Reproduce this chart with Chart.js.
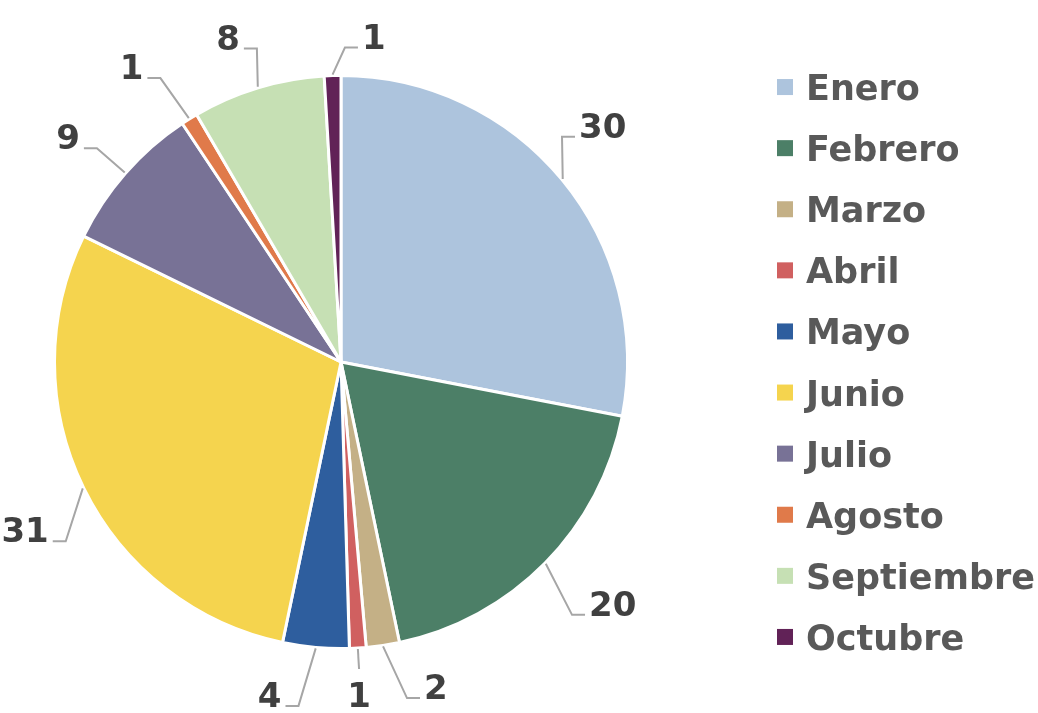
<!DOCTYPE html>
<html>
<head>
<meta charset="utf-8">
<script src="https://cdn.jsdelivr.net/npm/chart.js@4.4.0/dist/chart.umd.min.js"></script>
<style>
  html, body { margin: 0; padding: 0; background: #fff; }
  #wrap { width: 1038px; height: 713px; }
</style>
</head>
<body>
<div id="wrap"><canvas id="mesesChart" width="1038" height="713"></canvas></div>
<script>
document.addEventListener('DOMContentLoaded', function() {
    const data = {
        'Enero': 30,
        'Febrero': 20,
        'Marzo': 2,
        'Abril': 1,
        'Mayo': 4,
        'Junio': 31,
        'Julio': 9,
        'Agosto': 1,
        'Septiembre': 8,
        'Octubre': 1
    };
    const colors = ['#adc4dd', '#4c7f67', '#c4b086', '#d06060', '#2e5e9e',
                    '#f5d44e', '#787296', '#e07a4a', '#c6e0b4', '#612257'];

    // where each value label sits: extra radius, angle nudge (deg), side
    const labelPos = [
        { ext: 29, da: -6,   side: 1 },
        { ext: 56, da: 3,    side: 1 },
        { ext: 56, da: -2.7, side: 1 },
        { ext: 21, da: 0,    side: 0 },
        { ext: 60, da: 2,    side: -1 },
        { ext: 42, da: -7,   side: -1 },
        { ext: 38, da: 0,    side: -1 },
        { ext: 50, da: -0.5, side: -1 },
        { ext: 38, da: 1.8,  side: -1 },
        { ext: 28, da: 2.4,  side: 1 }
    ];

    const valueLabels = {
        id: 'valueLabels',
        afterDatasetsDraw(chart) {
            const ctx = chart.ctx;
            const meta = chart.getDatasetMeta(0);
            const values = chart.data.datasets[0].data;
            ctx.save();
            ctx.font = 'bold 34px "DejaVu Sans"';
            ctx.fillStyle = '#404040';
            ctx.strokeStyle = '#a6a6a6';
            ctx.lineWidth = 2;
            meta.data.forEach((arc, i) => {
                const p = labelPos[i];
                const mid = (arc.startAngle + arc.endAngle) / 2;
                const a2 = mid + p.da * Math.PI / 180;
                const r = arc.outerRadius;
                const x0 = arc.x + (r + 1) * Math.cos(mid);
                const y0 = arc.y + (r + 1) * Math.sin(mid);
                const x1 = arc.x + (r + p.ext) * Math.cos(a2);
                const y1 = arc.y + (r + p.ext) * Math.sin(a2);
                const x2 = x1 + p.side * 13;
                ctx.beginPath();
                ctx.moveTo(x0, y0);
                ctx.lineTo(x1, y1);
                ctx.lineTo(x2, y1);
                ctx.stroke();
                if (p.side === 0) {
                    ctx.textAlign = 'center';
                    ctx.textBaseline = 'top';
                    ctx.fillText(values[i], x1, y1 + 12);
                } else {
                    ctx.textAlign = p.side > 0 ? 'left' : 'right';
                    ctx.textBaseline = 'alphabetic';
                    ctx.fillText(values[i], x2 + p.side * 4, y1 + 1);
                }
            });
            ctx.restore();
        }
    };

    const sideLegend = {
        id: 'sideLegend',
        afterDraw(chart) {
            const ctx = chart.ctx;
            const area = chart.chartArea;
            const labels = chart.data.labels;
            const bg = chart.data.datasets[0].backgroundColor;
            const cy = (area.top + area.bottom) / 2;
            const x = area.right + 148;
            ctx.save();
            ctx.font = 'bold 35px "DejaVu Sans"';
            ctx.fillStyle = '#595959';
            ctx.textAlign = 'left';
            ctx.textBaseline = 'alphabetic';
            labels.forEach((label, i) => {
                const y = cy + (i - (labels.length - 1) / 2) * 61.1;
                ctx.fillStyle = bg[i];
                ctx.fillRect(x, y - 8, 16, 16);
                ctx.fillStyle = '#595959';
                ctx.fillText(label, x + 29, y + 13);
            });
            ctx.restore();
        }
    };

    const ctx = document.getElementById('mesesChart').getContext('2d');
    new Chart(ctx, {
        type: 'pie',
        data: {
            labels: Object.keys(data),
            datasets: [{
                data: Object.values(data),
                backgroundColor: colors,
                borderColor: '#ffffff',
                borderWidth: 3,
                hoverOffset: 0
            }]
        },
        options: {
            responsive: false,
            animation: false,
            layout: {
                padding: { left: 53, right: 409, top: 74, bottom: 63 }
            },
            plugins: {
                legend: { display: false },
                tooltip: { enabled: false }
            }
        },
        plugins: [valueLabels, sideLegend]
    });
});
</script>
</body>
</html>
